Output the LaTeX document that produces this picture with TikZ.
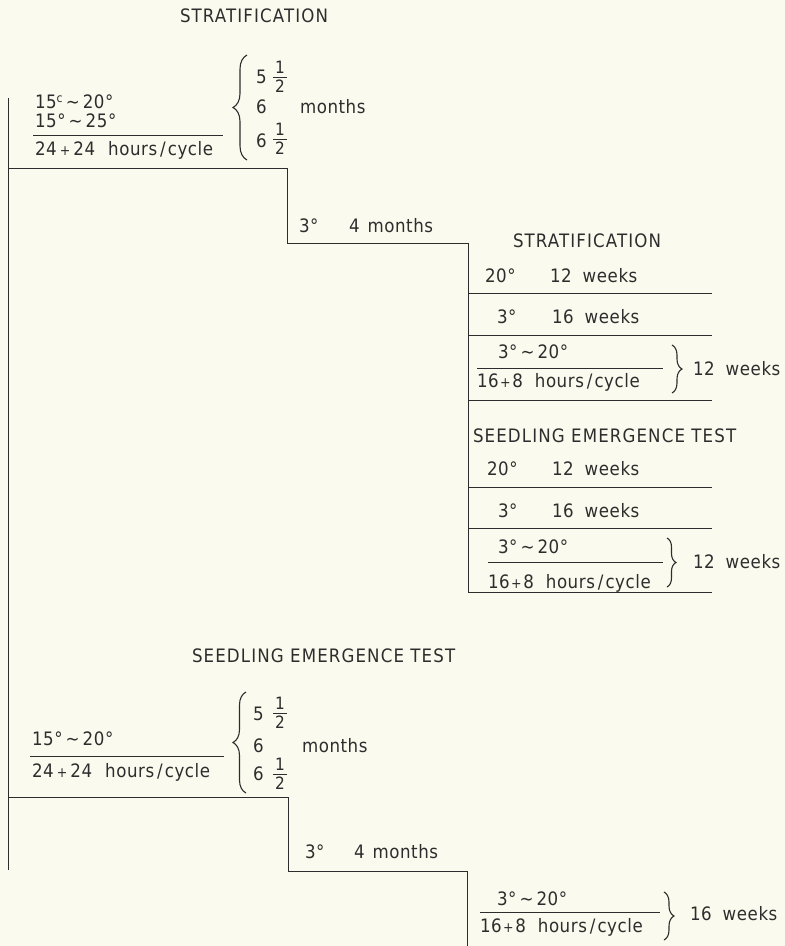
\documentclass[tikz,border=0pt]{standalone}
\usepackage{fontspec}
\setmainfont[FakeStretch=0.9,LetterSpace=3]{DejaVu Sans}
\newfontfamily\ttlfont[FakeStretch=0.9,LetterSpace=6]{DejaVu Sans}
\usetikzlibrary{decorations.pathreplacing}
\definecolor{paper}{RGB}{251,250,238}
\definecolor{ink}{RGB}{45,45,45}
\newcommand\hlf{{\fontsize{17}{17}\selectfont\setlength\arrayrulewidth{0.9pt}\renewcommand\arraystretch{0.6}\begin{tabular}{@{\hspace{2pt}}c@{\hspace{2pt}}}1\\[1pt]\hline\rule{0pt}{14pt}2\end{tabular}}}
\newcommand\smallplus{{\fontsize{14}{14}\selectfont +}}
\newcommand\tld{\textasciitilde}
\newcommand\degc{\raisebox{6pt}{\fontsize{12}{12}\selectfont c}}
\newcommand\hpc{hours\hspace{3pt}/\hspace{2pt}cycle}
\newcommand\sixeight{16\hspace{1.5pt}\smallplus\hspace{1.5pt}8\hspace{12pt}\hpc}
\begin{document}
\begin{tikzpicture}[x=1pt,y=-1pt,
  txt/.style={anchor=base west,inner sep=0pt,outer sep=0pt,font=\fontsize{18.5}{22}\selectfont,text=ink},
  ttl/.style={txt,font=\fontsize{18.5}{22}\selectfont\ttlfont},
  rule/.style={draw=ink,line width=1pt},
  brc/.style={draw=ink,line width=1.1pt,decorate,decoration={brace,amplitude=#1}},
  fracn/.style={anchor=center,inner sep=0pt,outer sep=0pt,text=ink}]
\fill[paper] (0,0) rectangle (785,946);
\useasboundingbox (0,0) rectangle (785,946);

% ---------- top block ----------
\node[ttl] (t1) at (180,22) {STRATIFICATION};
\node[txt] (a1) at (35,108) {15\degc\,\tld\,20°};
\node[txt] (a2) at (35,127) {15°\,\tld\,25°};
\coordinate (a2l) at (33,135); \coordinate (a2r) at (223,135);
\draw[rule] (a2l) -- (a2r);
\node[txt] (a3) at (35,155) {24\,\smallplus\,24\hspace{13pt}\hpc};
\coordinate (br1b) at (247,160); \coordinate (br1t) at (247,55);
\draw[brc=14] (br1b) -- (br1t);
\node[txt] (b1) at (256,83) {5};
\node[fracn] (b1f) at (280,78) {\hlf};
\node[txt] (b2) at (256,113) {6};
\node[txt] (b3) at (256,147) {6};
\node[fracn] (b3f) at (280,140) {\hlf};
\node[txt] (m1) at (300,113) {months};

% main lines
\coordinate (p0) at (8,98);
\coordinate (pe) at (8,870);
\coordinate (p1) at (8,168);
\coordinate (p2) at (287,168);
\coordinate (p3) at (287,243);
\coordinate (p4) at (468,243);
\coordinate (p5) at (468,592);
\draw[rule] (p0) -- (pe);
\draw[rule] (p1) -- (p2) -- (p3) -- (p4) -- (p5);

\node[txt] (c1) at (299,232) {3°};
\node[txt] (c2) at (349,232) {4\hspace{8pt}months};

% ---------- right block 1 ----------
\node[ttl] (r0) at (513,247) {STRATIFICATION};
\node[txt] (r1a) at (485,282) {20°};
\node[txt] (r1b) at (550,282) {12\hspace{11pt}weeks};
\coordinate (q1l) at (468,293); \coordinate (q1r) at (712,293);
\draw[rule] (q1l) -- (q1r);
\node[txt] (r2a) at (497,323) {3°};
\node[txt] (r2b) at (552,323) {16\hspace{11pt}weeks};
\coordinate (q2l) at (468,335); \coordinate (q2r) at (712,335);
\draw[rule] (q2l) -- (q2r);
\node[txt] (r3a) at (498,358) {3°\,\tld\,20°};
\coordinate (q3l) at (477,368); \coordinate (q3r) at (663,368);
\draw[rule] (q3l) -- (q3r);
\node[txt] (r3b) at (477,387) {\sixeight};
\coordinate (br2t) at (672,345); \coordinate (br2b) at (672,393);
\draw[brc=10] (br2t) -- (br2b);
\node[txt] (r3c) at (693,375) {12\hspace{11pt}weeks};
\coordinate (q4l) at (468,400); \coordinate (q4r) at (712,400);
\draw[rule] (q4l) -- (q4r);

% ---------- right block 2 ----------
\node[ttl] (s0) at (473,442) {SEEDLING EMERGENCE TEST};
\node[txt] (s1a) at (487,475) {20°};
\node[txt] (s1b) at (552,475) {12\hspace{11pt}weeks};
\coordinate (u1l) at (468,487); \coordinate (u1r) at (712,487);
\draw[rule] (u1l) -- (u1r);
\node[txt] (s2a) at (498,517) {3°};
\node[txt] (s2b) at (552,517) {16\hspace{11pt}weeks};
\coordinate (u2l) at (468,528); \coordinate (u2r) at (712,528);
\draw[rule] (u2l) -- (u2r);
\node[txt] (s3a) at (498,553) {3°\,\tld\,20°};
\coordinate (u3l) at (488,562); \coordinate (u3r) at (663,562);
\draw[rule] (u3l) -- (u3r);
\node[txt] (s3b) at (488,588) {\sixeight};
\coordinate (br3t) at (667,538); \coordinate (br3b) at (667,587);
\draw[brc=9] (br3t) -- (br3b);
\node[txt] (s3c) at (693,568) {12\hspace{11pt}weeks};
\coordinate (u4l) at (468,592); \coordinate (u4r) at (712,592);
\draw[rule] (u4l) -- (u4r);

% ---------- middle title ----------
\node[ttl] (mid) at (192,662) {SEEDLING EMERGENCE TEST};

% ---------- bottom block ----------
\node[txt] (e1) at (32,745) {15°\,\tld\,20°};
\coordinate (e1l) at (30,756); \coordinate (e1r) at (224,756);
\draw[rule] (e1l) -- (e1r);
\node[txt] (e2) at (32,777) {24\,\smallplus\,24\hspace{13pt}\hpc};
\coordinate (br4b) at (246,793); \coordinate (br4t) at (246,692);
\draw[brc=13] (br4b) -- (br4t);
\node[txt] (f1) at (253,720) {5};
\node[fracn] (f1f) at (280,714) {\hlf};
\node[txt] (f2) at (253,752) {6};
\node[txt] (f3) at (253,780) {6};
\node[fracn] (f3f) at (280,775) {\hlf};
\node[txt] (m2) at (302,752) {months};

\coordinate (k1) at (8,797);
\coordinate (k2) at (288,797);
\coordinate (k3) at (288,871);
\coordinate (k4) at (467,871);
\coordinate (k5) at (467,946);
\draw[rule] (k1) -- (k2) -- (k3) -- (k4) -- (k5);

\node[txt] (g1) at (305,858) {3°};
\node[txt] (g2) at (354,858) {4\hspace{8pt}months};

\node[txt] (h1) at (497,905) {3°\,\tld\,20°};
\coordinate (h1l) at (480,912); \coordinate (h1r) at (660,912);
\draw[rule] (h1l) -- (h1r);
\node[txt] (h2) at (480,932) {\sixeight};
\coordinate (br5t) at (664,892); \coordinate (br5b) at (664,940);
\draw[brc=10] (br5t) -- (br5b);
\node[txt] (h3) at (690,920) {16\hspace{11pt}weeks};
\end{tikzpicture}
\end{document}
